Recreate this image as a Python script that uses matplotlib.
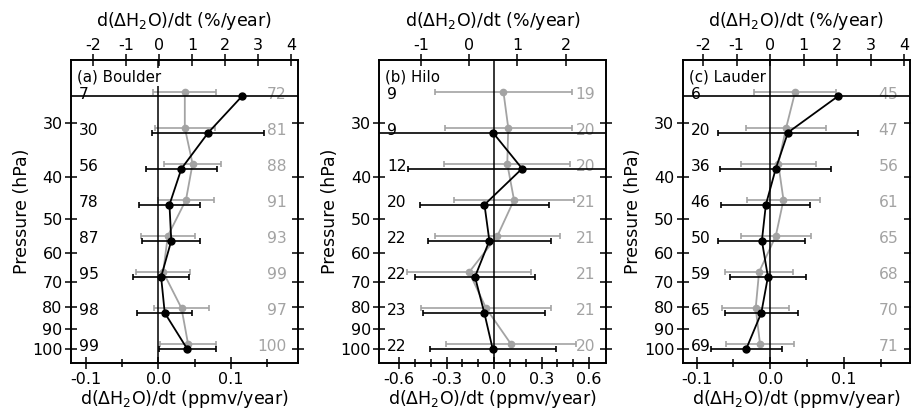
import numpy as np
import matplotlib.pyplot as plt
from matplotlib.ticker import FixedLocator, NullLocator, FormatStrFormatter

plt.rcParams['font.family'] = 'DejaVu Sans'
plt.rcParams['axes.unicode_minus'] = False

# MLS pressure levels (hPa)
pres = [26.10, 31.62, 38.31, 46.42, 56.23, 68.13, 82.54, 100.0]

# Boulder
b_ppmv = [0.115, 0.069, 0.032, 0.0155, 0.018, 0.004, 0.009, 0.040]
b_ppmv_err = [0.40, 0.077, 0.049, 0.042, 0.040, 0.038, 0.038, 0.039]
b_pct = [0.785, 0.785, 1.02, 0.82, 0.27, 0.13, 0.685, 0.885]
b_pct_err = [0.955, 0.90, 0.865, 0.845, 0.82, 0.815, 0.835, 0.855]
b_n_ppmv = [7, 30, 56, 78, 87, 95, 98, 99]
b_n_pct = [72, 81, 88, 91, 93, 99, 97, 100]

# Hilo
h_ppmv = [np.nan, -0.008, 0.177, -0.061, -0.030, -0.121, -0.062, -0.009]
h_ppmv_err = [np.nan, 1.5, 0.722, 0.41, 0.387, 0.378, 0.387, 0.398]
h_pct = [0.71, 0.81, 0.79, 0.93, 0.585, 0.0, 0.35, 0.87]
h_pct_err = [1.42, 1.32, 1.31, 1.25, 1.29, 1.28, 1.345, 1.345]
h_n_ppmv = [9, 9, 12, 20, 22, 22, 23, 22]
h_n_pct = [19, 20, 20, 21, 21, 21, 21, 20]

# Lauder
l_ppmv = [0.0916, 0.024, 0.0075, -0.006, -0.0114, -0.0032, -0.0122, -0.0327]
l_ppmv_err = [0.40, 0.095, 0.0755, 0.0605, 0.059, 0.052, 0.0494, 0.0483]
l_pct = [0.75, 0.48, 0.245, 0.40, 0.17, -0.33, -0.43, -0.30]
l_pct_err = [1.23, 1.20, 1.12, 1.08, 1.04, 1.02, 1.00, 1.02]
l_n_ppmv = [6, 20, 36, 46, 50, 59, 65, 69]
l_n_pct = [45, 47, 56, 61, 65, 68, 70, 71]

panels = [
    dict(title='(a) Boulder', ppmv=b_ppmv, ppmv_err=b_ppmv_err, pct=b_pct, pct_err=b_pct_err,
         n_ppmv=b_n_ppmv, n_pct=b_n_pct, xlim=(-0.12, 0.1923), xlim_top=(-2.66, 4.21),
         major=[-0.1, 0.0, 0.1], minor=[-0.05, 0.05, 0.15], top=[-2, -1, 0, 1, 2, 3, 4]),
    dict(title='(b) Hilo', ppmv=h_ppmv, ppmv_err=h_ppmv_err, pct=h_pct, pct_err=h_pct_err,
         n_ppmv=h_n_ppmv, n_pct=h_n_pct, xlim=(-0.726, 0.710), xlim_top=(-1.863, 2.845),
         major=[-0.6, -0.3, 0.0, 0.3, 0.6], minor=[-0.5, -0.4, -0.2, -0.1, 0.1, 0.2, 0.4, 0.5],
         top=[-1, 0, 1, 2]),
    dict(title='(c) Lauder', ppmv=l_ppmv, ppmv_err=l_ppmv_err, pct=l_pct, pct_err=l_pct_err,
         n_ppmv=l_n_ppmv, n_pct=l_n_pct, xlim=(-0.119, 0.1895), xlim_top=(-2.61, 4.17),
         major=[-0.1, 0.0, 0.1], minor=[-0.05, 0.05, 0.15], top=[-2, -1, 0, 1, 2, 3, 4]),
]

gray = '#a3a3a3'
lefts = [0.0779, 0.4164, 0.7494]
fig = plt.figure(figsize=(9.11, 4.16), dpi=100)

for left, p in zip(lefts, panels):
    ax = fig.add_axes([left, 0.1267, 0.2492, 0.7291])
    axt = ax.twiny()
    ax.set_zorder(axt.get_zorder() + 1)
    ax.patch.set_visible(False)

    gp = [v * 0.975 for v in pres]
    axt.errorbar(p['pct'], gp, xerr=p['pct_err'], color=gray, marker='o', ms=4.5,
                 lw=1.3, elinewidth=1.2, capsize=2.5, capthick=1.2)
    ax.errorbar(p['ppmv'], pres, xerr=p['ppmv_err'], color='black', marker='o', ms=5,
                lw=1.3, elinewidth=1.2, capsize=2.5, capthick=1.2)
    ax.axvline(0, color='black', lw=1.1, zorder=1.5)

    ax.set_yscale('log')
    ax.set_ylim(107.9, 21.5)
    ax.yaxis.set_major_locator(FixedLocator([30, 40, 50, 60, 70, 80, 90, 100]))
    ax.yaxis.set_major_formatter(FormatStrFormatter('%d'))
    ax.yaxis.set_minor_locator(NullLocator())

    ax.set_xlim(*p['xlim'])
    ax.set_xticks(p['major'])
    ax.set_xticks(p['minor'], minor=True)
    ax.xaxis.set_major_formatter(FormatStrFormatter('%.1f'))
    axt.set_xlim(*p['xlim_top'])
    axt.set_xticks(p['top'])
    axt.xaxis.set_major_formatter(FormatStrFormatter('%d'))

    ax.tick_params(which='both', direction='inout', right=True, width=1.1,
                   labelsize=11.5, pad=2)
    ax.tick_params(which='major', length=8)
    ax.tick_params(which='minor', length=6)
    axt.tick_params(direction='inout', length=8, width=1.1, labelsize=11.5, pad=1)
    for a in (ax, axt):
        for s in a.spines.values():
            s.set_linewidth(1.2)

    ax.set_ylabel('Pressure (hPa)', fontsize=12.5, labelpad=1)
    ax.set_xlabel('d(ΔH$_2$O)/dt (ppmv/year)', fontsize=12.5, labelpad=1)
    axt.set_xlabel('d(ΔH$_2$O)/dt (%/year)', fontsize=12.5, labelpad=9)

    ax.text(0.027, 0.943, p['title'], transform=ax.transAxes, fontsize=10.8,
            ha='left', va='center', zorder=5,
            bbox=dict(facecolor='white', edgecolor='none', pad=1))
    tr = ax.get_yaxis_transform()
    for pr, n1, n2 in zip(pres, p['n_ppmv'], p['n_pct']):
        ax.text(0.035, pr * 0.988, str(n1), transform=tr, ha='left', va='center',
                fontsize=11.2, color='black', zorder=1)
        ax.text(0.95, pr * 0.988, str(n2), transform=tr, ha='right', va='center',
                fontsize=11.2, color=gray, zorder=1)

fig.savefig('out.png', dpi=100)
